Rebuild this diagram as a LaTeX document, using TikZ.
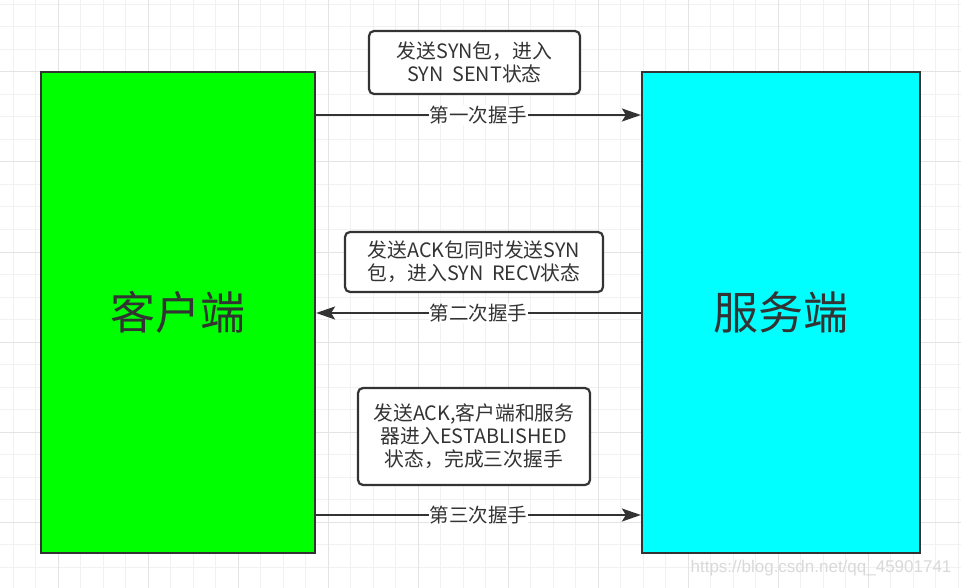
\documentclass[tikz,border=0pt]{standalone}
\usepackage{fontspec}
\usepackage{tikz}
\usetikzlibrary{positioning,arrows.meta}
\newfontfamily\cjk{Noto Sans CJK SC}
\setmainfont{Liberation Sans}
\definecolor{ink}{HTML}{333333}
\definecolor{gridlo}{HTML}{F1F1F1}
\definecolor{gridhi}{HTML}{E4E4E4}
\definecolor{clientfill}{HTML}{00FF00}
\definecolor{serverfill}{HTML}{00FFFF}

\begin{document}
\begin{tikzpicture}[
	x=1pt, y=-1pt,
	hostbox/.style={rectangle, draw=ink, line width=2.2pt, text=ink, font=\cjk\fontsize{45}{48}\selectfont},
	notebox/.style={rectangle, rounded corners=5pt, draw=ink, line width=2.2pt, fill=white, text=ink, align=center, font=\cjk\fontsize{19.8}{23}\selectfont},
	shake/.style={-{Stealth[length=19pt,width=13pt,inset=4pt]}, draw=ink, line width=2pt},
	shakelabel/.style={fill=white, text=ink, inner sep=1pt, font=\cjk\fontsize{19.5}{22}\selectfont},
	]
	\useasboundingbox (0,0) rectangle (961,588);
	\fill[white] (0,0) rectangle (961,588);
	%Grid
	\foreach \k in {0,...,42} \draw[gridlo, line width=1pt] ({13+22.5*\k},0) -- ({13+22.5*\k},588);
	\foreach \k in {0,...,26} \draw[gridlo, line width=1pt] (0,{4.5+22.5*\k}) -- (961,{4.5+22.5*\k});
	\foreach \k in {0,...,9} \draw[gridhi, line width=1pt] ({58+90*\k},0) -- ({58+90*\k},588);
	\foreach \k in {0,...,5} \draw[gridhi, line width=1pt] (0,{72+90*\k}) -- (961,{72+90*\k});
	
	%Nodes
	\node[hostbox, fill=clientfill, minimum width=274pt, minimum height=481pt] (client) at (178,312.5) {客户端};
	\node[hostbox, fill=serverfill, minimum width=278pt, minimum height=481pt] (server) at (781,312.5) {服务端};
	\node[notebox, minimum width=211pt, minimum height=63pt] (note1) at (474.5,62.5) {发送SYN包，进入\\SYN\ \ SENT状态};
	\node[notebox, minimum width=258pt, minimum height=60pt] (note2) at (474,262) {发送ACK包同时发送SYN\\包，进入SYN\ \ RECV状态};
	\node[notebox, minimum width=232pt, minimum height=97pt] (note3) at (474,436.5) {发送ACK,客户端和服务\\器进入ESTABLISHED\\状态，完成三次握手};
	\node[text=gray!30, font=\fontsize{17}{20}\selectfont, anchor=east] (mark) at (955,568) {https://blog.csdn.net/qq\_45901741};
	
	%Lines
	\draw[shake] ([yshift=197.5pt]client.east) -- node[shakelabel] (lbl1) {第一次握手} ([yshift=197.5pt]server.west);
	\draw[shake] ([yshift=-0.5pt]server.west) -- node[shakelabel] (lbl2) {第二次握手} ([yshift=-0.5pt]client.east);
	\draw[shake] ([yshift=-202.5pt]client.east) -- node[shakelabel] (lbl3) {第三次握手} ([yshift=-202.5pt]server.west);
\end{tikzpicture}
\end{document}
